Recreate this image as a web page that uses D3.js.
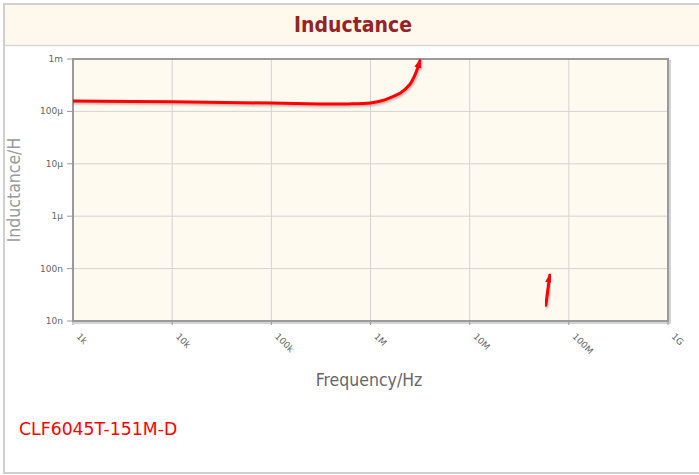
<!DOCTYPE html>
<html>
<head>
<meta charset="utf-8">
<script src="https://cdn.jsdelivr.net/npm/d3@7"></script>
<style>
  html, body { margin: 0; padding: 0; background: #fff; }
  svg { display: block; }
  .tick-label { font-family: "DejaVu Sans", sans-serif; font-size: 9px; fill: #666; }
</style>
</head>
<body>
<div id="chart"></div>
<script>
// Data
const xTicks = [1e3, 1e4, 1e5, 1e6, 1e7, 1e8, 1e9];
const xTickLabels = ['1k', '10k', '100k', '1M', '10M', '100M', '1G'];
const yTicks = [1e-3, 1e-4, 1e-5, 1e-6, 1e-7, 1e-8];
const yTickLabels = ['1m', '100µ', '10µ', '1µ', '100n', '10n'];

// main curve: frequency (Hz) / inductance (H)
const lowFreq = [1e3, 1e4, 1e5, 3e5, 6e5, 1e6, 1.3e6, 1.6e6, 2e6, 2.5e6, 2.85e6, 3.15e6];
const lowInd  = [158e-6, 153e-6, 144e-6, 139e-6, 139e-6, 145e-6, 160e-6, 185e-6, 225e-6, 330e-6, 530e-6, 930e-6];
// short segment near the self-resonance above 50 MHz
const highFreq = [58.6e6, 64.3e6];
const highInd  = [20e-9, 75e-9];

const partName = 'CLF6045T-151M-D';

const W = 699, H = 475;
const margin = {left: 73, right: 31, top: 59, bottom: 154};

const svg = d3.select('#chart').append('svg').attr('width', W).attr('height', H);

const defs = svg.append('defs');
const shadow = defs.append('filter').attr('id', 'shadow').attr('x', '-20%').attr('y', '-20%').attr('width', '140%').attr('height', '140%');
shadow.append('feDropShadow').attr('dx', 1).attr('dy', 1.5).attr('stdDeviation', 0.8)
    .attr('flood-color', '#000').attr('flood-opacity', 0.3);
defs.append('marker').attr('id', 'arrow')
    .attr('viewBox', '0 -5 10 10').attr('refX', 8).attr('refY', 0)
    .attr('markerUnits', 'userSpaceOnUse').attr('markerWidth', 9).attr('markerHeight', 9)
    .attr('orient', 'auto')
    .append('path').attr('d', 'M0,-4L10,0L0,4Z').attr('fill', '#ff0000');
defs.append('clipPath').attr('id', 'plotclip').append('rect')
    .attr('x', margin.left).attr('y', margin.top - 4)
    .attr('width', W - margin.left - margin.right).attr('height', H - margin.top - margin.bottom + 4);

// Frame and header
svg.append('rect').attr('x', 4).attr('y', 4).attr('width', W + 10).attr('height', 469)
    .attr('fill', '#fff').attr('stroke', '#cfcfcf').attr('stroke-width', 2);
svg.append('rect').attr('x', 5).attr('y', 5).attr('width', W).attr('height', 40)
    .attr('fill', '#fff9ed');
svg.append('line').attr('x1', 5).attr('x2', W).attr('y1', 45.5).attr('y2', 45.5)
    .attr('stroke', '#d8d8d8').attr('stroke-width', 1.5);
svg.append('text').attr('x', 353).attr('y', 32).attr('text-anchor', 'middle')
    .style('font-family', '"DejaVu Sans Condensed", "DejaVu Sans", sans-serif')
    .style('font-weight', 'bold').style('font-size', '21px').style('fill', '#962323')
    .text('Inductance');

const x = d3.scaleLog().domain([1e3, 1e9]).range([margin.left, W - margin.right]);
const y = d3.scaleLog().domain([1e-8, 1e-3]).range([H - margin.bottom, margin.top]);
const x0 = x.range()[0], x1 = x.range()[1], y0 = y.range()[0], y1 = y.range()[1];

// Plot background with shadowed border
svg.append('rect').attr('x', x0 + 2).attr('y', y1 + 2).attr('width', x1 - x0).attr('height', y0 - y1)
    .attr('fill', 'none').attr('stroke', '#d4d4d4').attr('stroke-width', 2);
svg.append('rect').attr('x', x0).attr('y', y1).attr('width', x1 - x0).attr('height', y0 - y1)
    .attr('fill', '#fffaf0');

// Grid
const grid = svg.append('g');
xTicks.forEach(t => {
    grid.append('line').attr('x1', x(t)).attr('x2', x(t)).attr('y1', y1).attr('y2', y0)
        .attr('stroke', '#d3d3d3').attr('stroke-width', 1);
});
yTicks.forEach(t => {
    grid.append('line').attr('x1', x0).attr('x2', x1).attr('y1', y(t)).attr('y2', y(t))
        .attr('stroke', '#d3d3d3').attr('stroke-width', 1);
});
svg.append('rect').attr('x', x0).attr('y', y1).attr('width', x1 - x0).attr('height', y0 - y1)
    .attr('fill', 'none').attr('stroke', '#9a9a9a').attr('stroke-width', 2);

// Tick marks and labels
yTicks.forEach((t, i) => {
    svg.append('line').attr('x1', x0 - 6).attr('x2', x0).attr('y1', y(t)).attr('y2', y(t))
        .attr('stroke', '#999').attr('stroke-width', 1);
    svg.append('text').attr('class', 'tick-label').attr('x', x0 - 10).attr('y', y(t) + 3)
        .attr('text-anchor', 'end').text(yTickLabels[i]);
});
xTicks.forEach((t, i) => {
    svg.append('line').attr('x1', x(t)).attr('x2', x(t)).attr('y1', y0).attr('y2', y0 + 4)
        .attr('stroke', '#999').attr('stroke-width', 1);
    svg.append('text').attr('class', 'tick-label')
        .attr('transform', `translate(${x(t) + 3},${y0 + 16}) rotate(45)`)
        .text(xTickLabels[i]);
});

// Axis titles
svg.append('text').attr('transform', `translate(20,${(y0 + y1) / 2}) rotate(-90)`)
    .attr('text-anchor', 'middle')
    .style('font-family', '"DejaVu Sans Condensed", "DejaVu Sans", sans-serif')
    .style('font-size', '17.5px').style('fill', '#999')
    .text('Inductance/H');
svg.append('text').attr('x', 369).attr('y', 386).attr('text-anchor', 'middle')
    .style('font-family', '"DejaVu Sans Condensed", "DejaVu Sans", sans-serif')
    .style('font-size', '17.5px').style('fill', '#666')
    .text('Frequency/Hz');

// Curves
const line = d3.line().x(d => x(d[0])).y(d => y(d[1])).curve(d3.curveCatmullRom.alpha(0.5));
const curves = svg.append('g').attr('clip-path', 'url(#plotclip)');
[[lowFreq, lowInd], [highFreq, highInd]].forEach(([fs, ls]) => {
    const pts = fs.map((f, i) => [f, ls[i]]);
    curves.append('path').attr('d', line(pts))
        .attr('fill', 'none').attr('stroke', '#ff0000').attr('stroke-width', 3)
        .attr('stroke-linecap', 'round').attr('stroke-linejoin', 'round')
        .attr('marker-end', 'url(#arrow)')
        .attr('filter', 'url(#shadow)');
});

// Part label
svg.append('text').attr('x', 19).attr('y', 435)
    .style('font-family', '"DejaVu Sans", sans-serif')
    .style('font-size', '17.3px').style('fill', '#ff0000')
    .text(partName);
</script>
</body>
</html>
